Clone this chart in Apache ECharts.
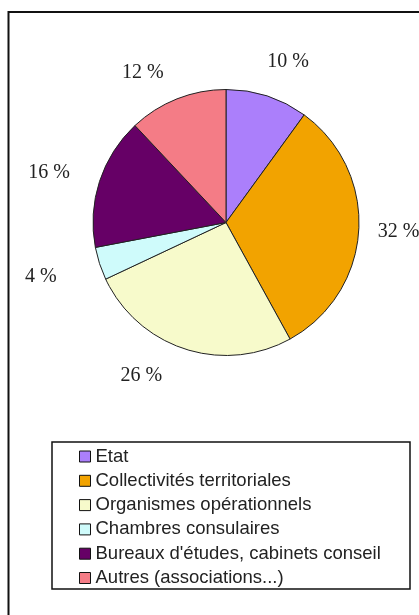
<!DOCTYPE html>
<html>
<head>
<meta charset="utf-8">
<script src="https://cdn.jsdelivr.net/npm/echarts@6/dist/echarts.min.js"></script>
<style>
  html, body { margin: 0; padding: 0; background: #fff; }
  #chart { width: 419px; height: 615px; }
</style>
</head>
<body>
<div id="chart"></div>
<script>
// slices, clockwise from 12 o'clock
const categories = [
  'Etat',
  'Collectivités territoriales',
  'Organismes opérationnels',
  'Chambres consulaires',
  "Bureaux d'études, cabinets conseil",
  'Autres (associations...)',
]
const shares = [10, 32, 26, 4, 16, 12]
const sliceColors = ['#AB7FFB', '#F2A300', '#F7FACB', '#CFFBFB', '#660066', '#F47C86']
// where each percentage sits (hidden label line: out from the rim, then sideways)
const labelReach = [36, 16, 28, 42, 28, 28]
const labelSpread = [-14, 0, 11, 0, 0, 0]

const chart = echarts.init(document.getElementById('chart'))

chart.setOption({
  animation: false,
  backgroundColor: '#fff',
  color: sliceColors,
  graphic: [
    // outer frame (runs off the right and bottom of the picture)
    {
      type: 'rect',
      shape: { x: 8.5, y: 12, width: 430, height: 620 },
      style: { fill: 'none', stroke: '#111', lineWidth: 2 },
      z: 0,
    },
    // legend box
    {
      type: 'rect',
      shape: { x: 52, y: 442, width: 358, height: 147 },
      style: { fill: 'none', stroke: '#111', lineWidth: 1.5 },
      z: 0,
    },
  ],
  legend: {
    orient: 'vertical',
    left: 79,
    top: 447,
    padding: 0,
    itemWidth: 11,
    itemHeight: 11,
    itemGap: 5.3,
    icon: 'rect',
    selectedMode: false,
    itemStyle: { borderColor: '#111', borderWidth: 1 },
    textStyle: {
      fontFamily: 'Liberation Sans',
      fontSize: 18.5,
      color: '#222',
    },
    data: categories,
  },
  series: [
    {
      type: 'pie',
      center: [226, 222.5],
      radius: 133,
      startAngle: 90,
      clockwise: true,
      avoidLabelOverlap: false,
      itemStyle: { borderColor: '#222', borderWidth: 1 },
      emphasis: { disabled: true },
      label: {
        show: true,
        position: 'outside',
        formatter: '{c} %',
        fontFamily: 'Liberation Serif',
        fontSize: 20,
        color: '#222',
        distanceToLabelLine: 3,
        overflow: 'none',
      },
      labelLine: { show: false, length: 28, length2: 0 },
      data: categories.map((name, i) => ({
        name,
        value: shares[i],
        labelLine: { show: false, length: labelReach[i], length2: labelSpread[i] },
      })),
    },
  ],
})
</script>
</body>
</html>
